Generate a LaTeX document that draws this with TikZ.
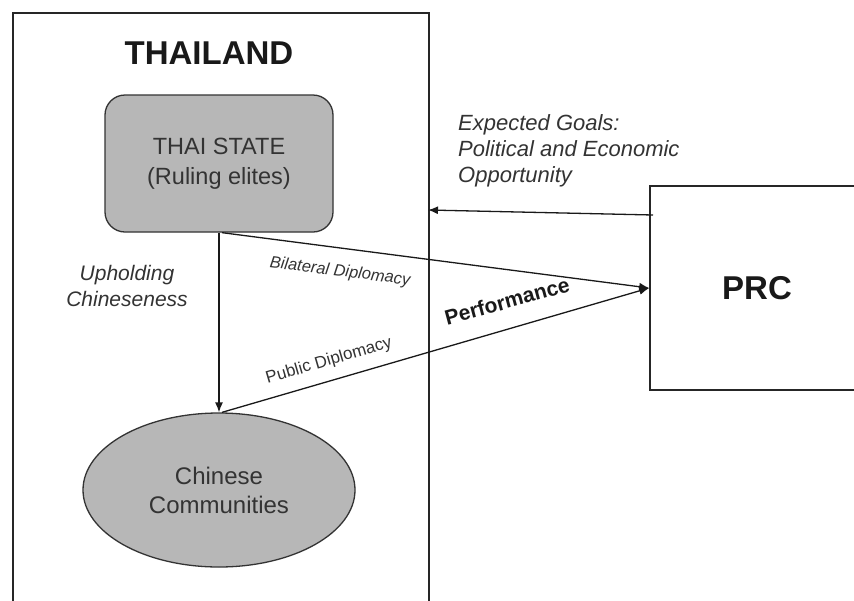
\documentclass[tikz,border=0pt]{standalone}
\usepackage{fontspec}
\setmainfont{Liberation Sans}
\usetikzlibrary{arrows.meta,shapes.geometric}
\definecolor{boxgray}{HTML}{B7B7B7}
\definecolor{txtgray}{HTML}{333333}
\begin{document}
\begin{tikzpicture}[x=1pt,y=-1pt,
  frame/.style={draw=black!85, line width=1.6pt, inner sep=0pt},
  shade/.style={draw=black!80, line width=1.3pt, fill=boxgray, text=txtgray, align=center, inner sep=0pt},
  conn/.style={-{Latex[length=10pt,width=8pt]}, line width=1.3pt, draw=black!90},
  lbl/.style={text=txtgray, inner sep=0pt}]
\useasboundingbox (0,0) rectangle (854,600);
\clip (0,0) rectangle (854,600);
\fill[white] (0,0) rectangle (854,600);

% frames
\node[frame, minimum width=416pt, minimum height=640pt, anchor=north west] (thailand) at (12,12) {};
\node[font=\fontsize{33}{40}\selectfont\bfseries, text=black!90, inner sep=0pt] (title) at (209,53) {THAILAND};
\node[frame, minimum width=214pt, minimum height=204pt, font=\fontsize{33}{40}\selectfont\bfseries, text=black!90] (prc) at (757,288) {PRC};

% inner nodes
\node[shade, rectangle, rounded corners=20pt, minimum width=228pt, minimum height=137pt,
      font=\fontsize{23.5}{30}\selectfont] (state) at (219,163.5) {THAI STATE\\(Ruling elites)};
\node[shade, ellipse, minimum width=272pt, minimum height=154pt,
      font=\fontsize{24}{29}\selectfont] (comm) at (219,490) {Chinese\\Communities};

% connectors
\coordinate (gstart) at (653,215);
\coordinate (gend) at (428,210);
\draw[conn] (gstart) -- (gend);
\draw[conn] (state.south) -- (comm.north);
\draw[conn] ([xshift=3pt]state.south) -- (prc.west);
\draw[conn] ([xshift=3pt]comm.north) -- (prc.west);

% labels
\node[lbl, anchor=west, align=left, font=\fontsize{22}{26}\selectfont\itshape] (goals) at (458,151)
  {Expected Goals:\\Political and Economic\\Opportunity};
\node[lbl, align=center, font=\fontsize{21}{26}\selectfont\itshape] (uphold) at (127,286)
  {Upholding\\Chineseness};
\node[lbl, rotate=-7.2, font=\fontsize{16.5}{20}\selectfont\itshape] (bilat) at (340,272) {Bilateral Diplomacy};
\node[lbl, rotate=16.4, font=\fontsize{17}{20}\selectfont] (public) at (329,361) {Public Diplomacy};
\node[lbl, rotate=15.2, text=black!90, font=\fontsize{21}{25}\selectfont\bfseries] (perf) at (507,301) {Performance};
\end{tikzpicture}
\end{document}
